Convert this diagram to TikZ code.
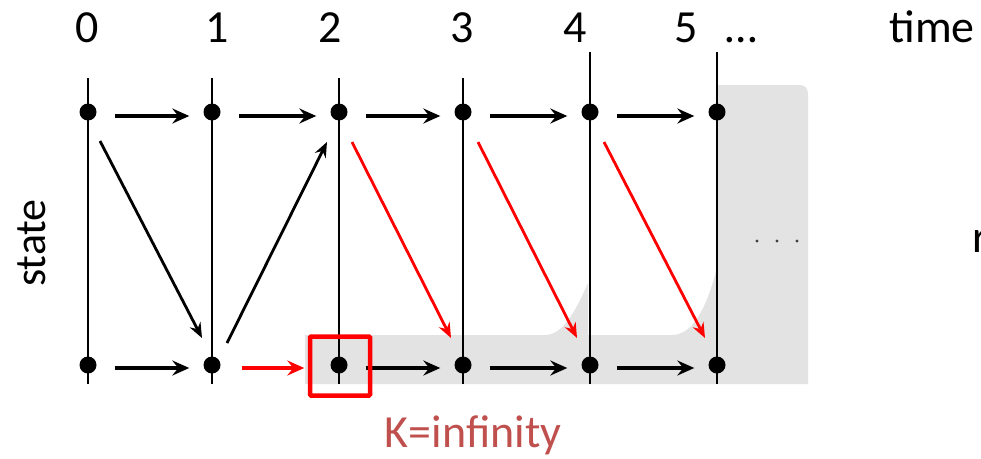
\documentclass[tikz,border=0pt]{standalone}
\usepackage{fontspec}
\setmainfont{Carlito}
\usetikzlibrary{arrows.meta}
\definecolor{shadegray}{HTML}{E3E3E3}
\definecolor{klabel}{HTML}{C0504D}
\tikzset{
  dotnode/.style={circle,fill=black,inner sep=0pt,minimum size=17pt},
  harrow/.style={line width=3.8pt,-{Stealth[length=17pt,width=15pt,inset=6pt]}},
  darrow/.style={line width=2.8pt,-{Stealth[length=15pt,width=12pt,inset=5pt]}},
  timeline/.style={line width=1.8pt},
  biglabel/.style={font=\fontsize{46}{50}\selectfont,inner sep=0pt,anchor=base},
}
\begin{document}
\begin{tikzpicture}[x=1pt,y=-1pt]
\useasboundingbox (0,0) rectangle (981,458);
\clip (0,0) rectangle (981,458);
% grey shaded region
\fill[shadegray] (305,335) -- (545,335) .. controls (565,335) and (578,305) .. (588,283)
  -- (588,335) -- (672,335) .. controls (692,335) and (706,310) .. (717,268)
  -- (717,85) -- (798,85) .. controls (806,85) and (808,88) .. (808,95)
  -- (808,384) -- (305,384) -- cycle;
% time lines
\foreach \x/\t in {88/78,212/78,339/78,463/78,590/52,717/52}
  \draw[timeline] (\x,\t) -- (\x,384);
% state nodes
\foreach \i/\x in {0/88,1/212,2/339,3/463,4/590,5/717}{
  \node[dotnode] (t\i) at (\x,112) {};
  \node[dotnode] (b\i) at (\x,365) {};
}
% horizontal arrows, top row
\foreach \a/\b in {0/1,1/2,2/3,3/4,4/5}
  \draw[harrow] ([xshift=18pt,yshift=-4pt]t\a.east) -- ([xshift=-14pt,yshift=-4pt]t\b.west);
% horizontal arrows, bottom row
\foreach \a/\b in {0/1,2/3,3/4,4/5}
  \draw[harrow] ([xshift=18pt,yshift=-3pt]b\a.east) -- ([xshift=-14pt,yshift=-3pt]b\b.west);
\draw[harrow,red] ([xshift=21pt,yshift=-3pt]b1.east) -- ([xshift=-26pt,yshift=-3pt]b2.west);
% diagonal arrows
\draw[darrow] ([shift={(12pt,-29pt)}]t0.center) -- ([shift={(-10pt,27pt)}]b1.center);
\draw[darrow] ([shift={(15pt,22pt)}]b1.center) -- ([shift={(-12pt,-30pt)}]t2.center);
\draw[darrow,red] ([shift={(13pt,-30pt)}]t2.center) -- ([shift={(-12pt,27pt)}]b3.center);
\draw[darrow,red] ([shift={(15pt,-30pt)}]t3.center) -- ([shift={(-13pt,27pt)}]b4.center);
\draw[darrow,red] ([shift={(14pt,-30pt)}]t4.center) -- ([shift={(-12pt,27pt)}]b5.center);
% red box around state at time 2
\node[draw=red,line width=4.5pt,minimum width=60pt,minimum height=59pt,inner sep=0pt,rounded corners=1pt] (kbox) at (340,366) {};
% small dots in the shaded region
\foreach \x in {757,777,797}
  \fill[black!75] (\x,241) circle (1.6pt);
% labels
\foreach \x/\s [count=\n from 0] in {87/0,217/1,330/2,462/3,575/4,686/5}
  \node[biglabel] (lab\n) at (\x,42) {\s};
\node[biglabel] (dots) at (741,42) {…};
\node[biglabel] (time) at (932,42) {time};
\node[biglabel,rotate=90,anchor=center,font=\fontsize{44}{48}\selectfont] (state) at (32,243) {state};
\node[biglabel,text=klabel] (kinf) at (473,447) {K=infinity};
\node[biglabel,anchor=base west] (cut) at (972,252) {r};
\end{tikzpicture}
\end{document}
